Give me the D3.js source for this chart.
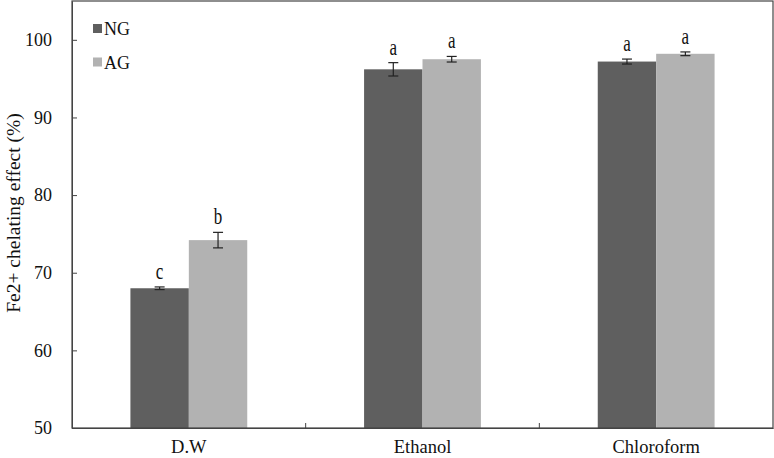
<!DOCTYPE html>
<html><head><meta charset="utf-8">
<script src="https://cdn.jsdelivr.net/npm/d3@7"></script>
<style>body{margin:0;background:#fff}svg{display:block}text{font-family:"Liberation Serif","Times New Roman",serif}</style>
</head><body><svg id="c" width="774" height="458"></svg>
<script>
const categories = ["D.W", "Ethanol", "Chloroform"];
const series = ["NG", "AG"];
const ngValues = [68.0, 96.2, 97.2];
const agValues = [74.2, 97.5, 98.2];
const ngErrors = [0.17, 0.86, 0.32];
const agErrors = [1.0, 0.36, 0.24];
const ngLetters = ["c", "a", "a"];
const agLetters = ["b", "a", "a"];
const yTicks = [50, 60, 70, 80, 90, 100];
const colors = {NG: "#5f5f5f", AG: "#b2b2b2"};
const serif = '"Liberation Serif","Times New Roman",serif';

const svg = d3.select("#c");
const m = {l: 72, r: 773, t: 1, b: 428};
const x = d3.scaleBand().domain(categories).range([m.l, m.r]).paddingInner(0).paddingOuter(0);
const y = d3.scaleLinear().domain([50, 105]).range([m.b, m.t]);
const inner = d3.scaleBand().domain(series).range([0, x.bandwidth()]).paddingInner(0).paddingOuter(1);

const data = [];
categories.forEach((c, i) => {
  data.push({c, s: "NG", v: ngValues[i], e: ngErrors[i], l: ngLetters[i]});
  data.push({c, s: "AG", v: agValues[i], e: agErrors[i], l: agLetters[i]});
});

svg.selectAll("rect.bar").data(data).enter().append("rect").attr("class", "bar")
  .attr("x", d => x(d.c) + inner(d.s)).attr("width", inner.bandwidth())
  .attr("y", d => y(d.v)).attr("height", d => y(50) - y(d.v))
  .attr("fill", d => colors[d.s]);

const eb = svg.append("g").attr("stroke", "#222").attr("stroke-width", 1.2);
data.forEach(d => {
  const cx = x(d.c) + inner(d.s) + inner.bandwidth() / 2;
  eb.append("line").attr("x1", cx).attr("x2", cx).attr("y1", y(d.v + d.e)).attr("y2", y(d.v - d.e));
  eb.append("line").attr("x1", cx - 5).attr("x2", cx + 5).attr("y1", y(d.v + d.e)).attr("y2", y(d.v + d.e));
  eb.append("line").attr("x1", cx - 5).attr("x2", cx + 5).attr("y1", y(d.v - d.e)).attr("y2", y(d.v - d.e));
  svg.append("text").attr("transform", `translate(${cx},${y(d.v + d.e) - 8}) scale(1,1.3)`)
    .attr("text-anchor", "middle").attr("font-size", 17).attr("font-family", serif).attr("fill", "#111").text(d.l);
});

// frame
svg.append("rect").attr("x", m.l).attr("y", m.t).attr("width", m.r - m.l).attr("height", m.b - m.t)
  .attr("fill", "none").attr("stroke", "#444").attr("stroke-width", 1.2);

// y axis
const ya = svg.append("g").attr("transform", `translate(${m.l},0)`)
  .call(d3.axisLeft(y).tickValues(yTicks).tickSizeInner(-5).tickSizeOuter(0).tickPadding(20));
ya.attr("font-family", serif);
ya.select(".domain").attr("stroke", "#444");
ya.selectAll("line").attr("stroke", "#444");
ya.selectAll("text").attr("font-size", 18).attr("fill", "#111");

// x axis
const xa = svg.append("g").attr("transform", `translate(0,${m.b})`)
  .call(d3.axisBottom(x).tickSize(0).tickPadding(12));
xa.attr("font-family", serif);
xa.select(".domain").attr("stroke", "#444");
xa.selectAll("text").attr("font-size", 18.5).attr("fill", "#111");
// boundary ticks
svg.append("g").selectAll("line").data(categories.slice(1)).enter().append("line")
  .attr("x1", d => x(d)).attr("x2", d => x(d)).attr("y1", m.b).attr("y2", m.b - 5).attr("stroke", "#444");

// y title
svg.append("text").attr("transform", `translate(20,${213}) rotate(-90)`)
  .attr("text-anchor", "middle").attr("font-size", 19.5).attr("font-family", serif).attr("fill", "#111").text("Fe2+ chelating effect (%)");

// legend
const lg = svg.append("g");
series.forEach((s, i) => {
  const ly = 29 + i * 33.5;
  lg.append("rect").attr("x", 93).attr("y", ly - 5).attr("width", 9).attr("height", 9).attr("fill", colors[s]);
  lg.append("text").attr("x", 104).attr("y", ly + 6).attr("font-size", 18).attr("font-family", serif).attr("fill", "#111").text(s);
});
</script></body></html>
